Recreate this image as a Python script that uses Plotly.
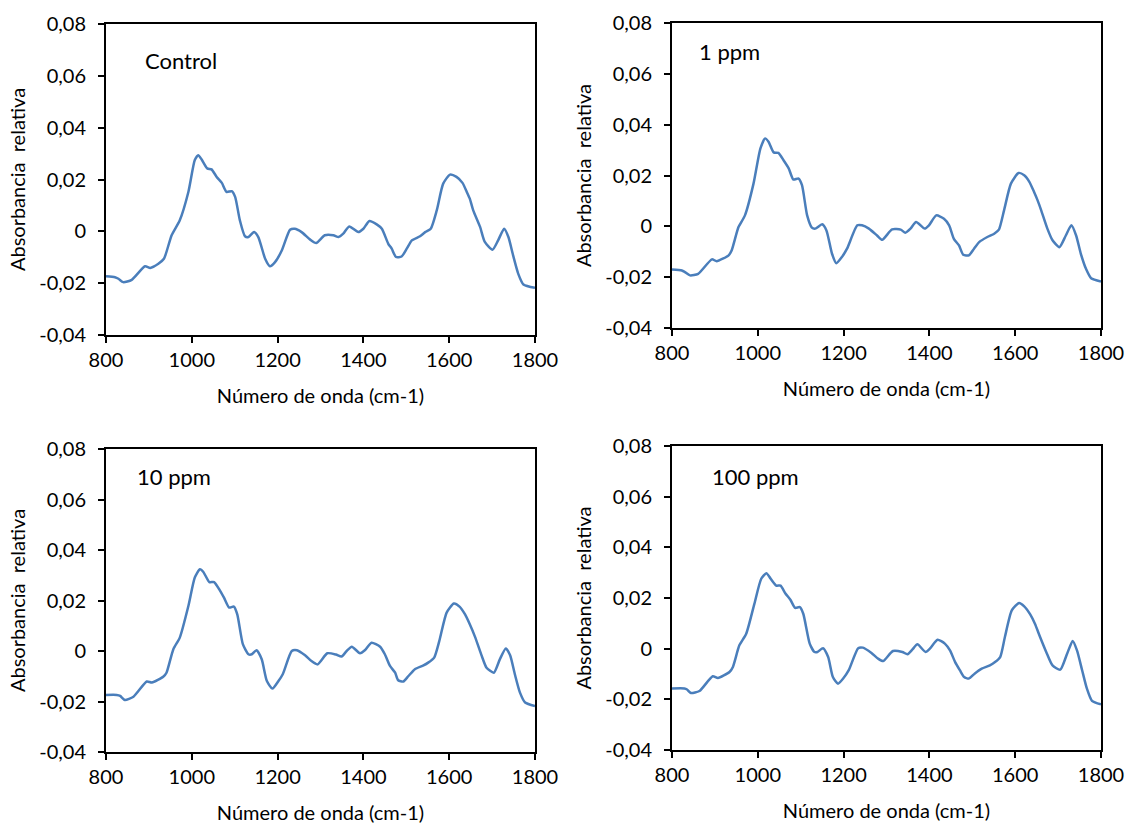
import plotly.graph_objects as go

# ---------------- data ----------------
wn_control = [800, 821, 829, 840, 860, 891, 903, 922, 935, 953, 972, 992, 1007, 1015, 1023, 1036, 1046, 1058,
              1070, 1081, 1093, 1101, 1112, 1124, 1132, 1145, 1155, 1171, 1182, 1194, 1210, 1229, 1240, 1256,
              1276, 1290, 1310, 1330, 1342, 1353, 1367, 1388, 1400, 1414, 1431, 1443, 1458, 1466, 1476, 1489,
              1501, 1513, 1532, 1544, 1557, 1571, 1586, 1602, 1617, 1631, 1641, 1648, 1656, 1672, 1683, 1701,
              1714, 1728, 1738, 1749, 1761, 1773, 1800]
abs_control = [-0.0173, -0.0177, -0.0183, -0.0196, -0.0187, -0.0135, -0.0141, -0.0125, -0.0106, -0.0015, 0.0043,
               0.0152, 0.0275, 0.0294, 0.0277, 0.0243, 0.0239, 0.0210, 0.0187, 0.0152, 0.0155, 0.0133, 0.0043,
               -0.0019, -0.0022, -0.0003, -0.0022, -0.0106, -0.0135, -0.0119, -0.0073, 0.0006, 0.0010, -0.0003,
               -0.0032, -0.0045, -0.0015, -0.0015, -0.0022, -0.0009, 0.0019, -0.0003, 0.0010, 0.0040, 0.0027,
               0.0010, -0.0048, -0.0067, -0.0099, -0.0097, -0.0067, -0.0035, -0.0019, -0.0003, 0.0010, 0.0081,
               0.0184, 0.0219, 0.0210, 0.0187, 0.0152, 0.0126, 0.0081, 0.0017, -0.0041, -0.0071, -0.0035, 0.0010,
               -0.0022, -0.0093, -0.0164, -0.0205, -0.0218]

wn_1ppm = [800, 823, 830, 842, 861, 893, 904, 932, 939, 955, 970, 990, 1006, 1017, 1025, 1037, 1048, 1060, 1072,
           1083, 1095, 1103, 1115, 1126, 1134, 1150, 1160, 1173, 1183, 1196, 1208, 1232, 1243, 1259, 1278, 1290,
           1313, 1333, 1344, 1356, 1369, 1389, 1399, 1416, 1434, 1446, 1457, 1469, 1479, 1492, 1504, 1516, 1535,
           1551, 1562, 1574, 1590, 1608, 1621, 1633, 1644, 1652, 1660, 1675, 1687, 1703, 1718, 1731, 1742, 1753,
           1765, 1777, 1800]
abs_1ppm = [-0.0170, -0.0174, -0.0180, -0.0193, -0.0187, -0.0130, -0.0137, -0.0114, -0.0095, -0.0003, 0.0043,
            0.0168, 0.0306, 0.0346, 0.0333, 0.0291, 0.0289, 0.0260, 0.0228, 0.0184, 0.0188, 0.0162, 0.0043, -0.0005,
            -0.0009, 0.0008, -0.0016, -0.0108, -0.0145, -0.0121, -0.0088, 0.0004, 0.0004, -0.0009, -0.0036,
            -0.0053, -0.0012, -0.0013, -0.0025, -0.0009, 0.0017, -0.0009, 0.0004, 0.0043, 0.0030, 0.0004, -0.0049,
            -0.0075, -0.0112, -0.0114, -0.0088, -0.0062, -0.0042, -0.0029, -0.0013, 0.0063, 0.0168, 0.0210, 0.0201,
            0.0175, 0.0135, 0.0103, 0.0066, -0.0009, -0.0055, -0.0082, -0.0036, 0.0004, -0.0036, -0.0108, -0.0167,
            -0.0204, -0.0217]

wn_10ppm = [800, 825, 833, 844, 864, 895, 907, 934, 941, 957, 972, 992, 1007, 1019, 1027, 1041, 1052, 1064, 1075,
            1087, 1098, 1106, 1119, 1132, 1140, 1151, 1163, 1175, 1188, 1202, 1212, 1233, 1245, 1264, 1279, 1293,
            1316, 1336, 1349, 1361, 1373, 1392, 1404, 1419, 1439, 1450, 1462, 1474, 1481, 1493, 1505, 1520, 1540,
            1551, 1565, 1577, 1594, 1611, 1624, 1637, 1648, 1660, 1676, 1687, 1704, 1718, 1732, 1742, 1753, 1765,
            1777, 1800]
abs_10ppm = [-0.0174, -0.0174, -0.0178, -0.0194, -0.0181, -0.0121, -0.0125, -0.0101, -0.0086, 0.0007, 0.0053,
             0.0178, 0.0291, 0.0324, 0.0313, 0.0273, 0.0273, 0.0244, 0.0211, 0.0172, 0.0176, 0.0145, 0.0027,
             -0.0013, -0.0013, 0.0003, -0.0033, -0.0119, -0.0149, -0.0119, -0.0092, 0.0000, 0.0003, -0.0017,
             -0.0040, -0.0053, -0.0009, -0.0014, -0.0022, 0.0000, 0.0017, -0.0009, 0.0004, 0.0033, 0.0017, -0.0013,
             -0.0059, -0.0086, -0.0116, -0.0121, -0.0099, -0.0072, -0.0057, -0.0046, -0.0026, 0.0040, 0.0152,
             0.0188, 0.0176, 0.0145, 0.0106, 0.0057, -0.0020, -0.0066, -0.0086, -0.0033, 0.0010, -0.0017, -0.0092,
             -0.0165, -0.0204, -0.0218]

wn_100ppm = [800, 829, 835, 844, 864, 895, 907, 934, 942, 957, 973, 992, 1008, 1020, 1030, 1043, 1053, 1064, 1076,
             1087, 1098, 1106, 1121, 1132, 1139, 1152, 1164, 1175, 1187, 1199, 1212, 1234, 1245, 1265, 1280, 1292,
             1315, 1337, 1349, 1360, 1372, 1391, 1401, 1419, 1436, 1448, 1460, 1471, 1481, 1492, 1506, 1522, 1541,
             1553, 1565, 1576, 1592, 1609, 1621, 1635, 1646, 1658, 1674, 1687, 1705, 1721, 1734, 1744, 1756, 1767,
             1779, 1800]
abs_100ppm = [-0.0157, -0.0157, -0.0161, -0.0175, -0.0167, -0.0109, -0.0116, -0.0092, -0.0072, 0.0013, 0.0059,
              0.0177, 0.0276, 0.0298, 0.0276, 0.0249, 0.0249, 0.0219, 0.0193, 0.0161, 0.0164, 0.0138, 0.0020,
              -0.0013, -0.0013, 0.0002, -0.0033, -0.0112, -0.0138, -0.0118, -0.0085, 0.0002, 0.0004, -0.0017,
              -0.0039, -0.0049, -0.0009, -0.0013, -0.0022, -0.0004, 0.0017, -0.0013, 0.0000, 0.0035, 0.0020,
              -0.0007, -0.0053, -0.0085, -0.0112, -0.0118, -0.0098, -0.0079, -0.0066, -0.0053, -0.0033, 0.0046,
              0.0151, 0.0180, 0.0167, 0.0135, 0.0098, 0.0046, -0.0020, -0.0066, -0.0083, -0.0020, 0.0030, -0.0007,
              -0.0085, -0.0157, -0.0206, -0.0220]

panel_labels = ["Control", "1 ppm", "10 ppm", "100 ppm"]
x_tickvals = [800, 1000, 1200, 1400, 1600, 1800]
y_tickvals = [-0.04, -0.02, 0, 0.02, 0.04, 0.06, 0.08]
y_ticktext = ["-0,04", "-0,02", "0", "0,02", "0,04", "0,06", "0,08"]
x_title = "Número de onda (cm-1)"
y_title = "Absorbancia  relativa"

# ---------------- figure ----------------
W, H = 1129, 825
FONT = "Lato"
LINE_COLOR = "#4A7EBB"

series = [(wn_control, abs_control), (wn_1ppm, abs_1ppm), (wn_10ppm, abs_10ppm), (wn_100ppm, abs_100ppm)]
# pixel boxes of plot areas: (left, right, top, bottom)
boxes = [(106, 535, 24, 335), (672, 1101, 23, 328), (106, 535, 449, 752), (672, 1101, 446, 750)]
label_pos = [(143, 60), (697, 52), (135, 476), (710, 476)]

fig = go.Figure()
layout = dict(width=W, height=H, margin=dict(l=0, r=0, t=0, b=0, autoexpand=False), paper_bgcolor="white",
              plot_bgcolor="white", showlegend=False, font=dict(family=FONT, color="black", size=20))
annotations = []
for i, ((xs, ys), (l, r, t, b)) in enumerate(zip(series, boxes)):
    n = "" if i == 0 else str(i + 1)
    fig.add_trace(go.Scatter(x=xs, y=ys, mode="lines", xaxis="x" + n, yaxis="y" + n,
                             line=dict(color=LINE_COLOR, width=2.5, shape="spline", smoothing=0.6),
                             name=panel_labels[i]))
    common = dict(showline=True, linecolor="black", linewidth=2, mirror=True, showgrid=False,
                  zeroline=False, ticks="outside", ticklen=6, tickwidth=2, tickcolor="black",
                  automargin=False, tickfont=dict(family=FONT, size=20, color="black"))
    layout["xaxis" + n] = dict(domain=[l / W, r / W], anchor="y" + n, range=[800, 1800],
                               tickvals=x_tickvals, title=dict(text=x_title, standoff=19,
                                                              font=dict(family=FONT, size=20)),
                               **common)
    layout["yaxis" + n] = dict(domain=[1 - b / H, 1 - t / H], anchor="x" + n, range=[-0.04, 0.08],
                               tickvals=y_tickvals, ticktext=y_ticktext, ticklabelstandoff=8,
                               title=dict(text=y_title, standoff=8, font=dict(family=FONT, size=20)),
                               **common)
    lx, ly = label_pos[i]
    annotations.append(dict(text=panel_labels[i], x=lx / W, y=1 - ly / H,
                            xref="paper", yref="paper",
                            xanchor="left", yanchor="middle", showarrow=False,
                            font=dict(family=FONT, size=22, color="black")))
layout["annotations"] = annotations
fig.update_layout(**layout)
fig.write_html("out.html", config={"displayModeBar": False},
               post_script="document.body.style.margin='0';document.body.style.overflow='hidden';")
